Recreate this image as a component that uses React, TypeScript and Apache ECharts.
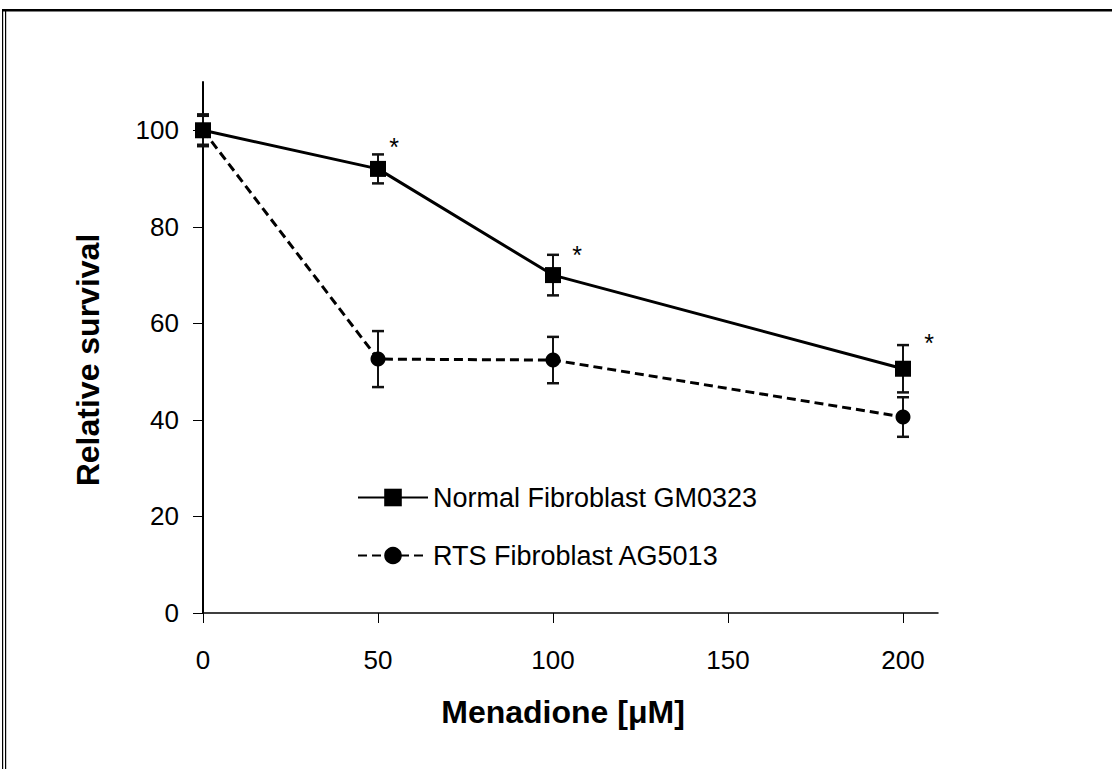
import React, { useEffect, useRef } from "react";
import * as echarts from "echarts";

const doses = [0, 50, 100, 200];
const normalMean = [100, 92, 70, 50.6];
const normalErr = [3.3, 3, 4.2, 4.9];
const rtsMean = [100, 52.6, 52.4, 40.6];
const rtsErr = [3, 5.8, 4.8, 4.1];
const significant = [false, true, true, true];
const xTicks = [0, 50, 100, 150, 200];
const yTicks = [0, 20, 40, 60, 80, 100];
const normalName = "Normal Fibroblast GM0323";
const rtsName = "RTS Fibroblast AG5013";

const FONT = "Liberation Sans, Arial, sans-serif";
const NARROW = "Liberation Sans Narrow, Arial Narrow, Liberation Sans, sans-serif";

function errorSeries(means: number[], errs: number[]) {
  return {
    type: "custom",
    silent: true,
    z: 1,
    data: doses.map((d, i) => [d, means[i] - errs[i], means[i] + errs[i]]),
    renderItem: (params: any, api: any) => {
      const x = api.value(0);
      const lo = api.coord([x, api.value(1)]);
      const hi = api.coord([x, api.value(2)]);
      const cw = 6;
      const style = { stroke: "#111", lineWidth: 2 };
      return {
        type: "group",
        children: [
          { type: "line", shape: { x1: lo[0], y1: lo[1], x2: hi[0], y2: hi[1] }, style },
          { type: "line", shape: { x1: lo[0] - cw, y1: lo[1], x2: lo[0] + cw, y2: lo[1] }, style: { stroke: "#111", lineWidth: 2.5 } },
          { type: "line", shape: { x1: hi[0] - cw, y1: hi[1], x2: hi[0] + cw, y2: hi[1] }, style: { stroke: "#111", lineWidth: 2.5 } },
        ],
      };
    },
  };
}

export default function App() {
  const ref = useRef<HTMLDivElement>(null);
  useEffect(() => {
    const chart = echarts.init(ref.current!, null, { renderer: "svg" });
    const offsets = [[0, 0], [16, -22], [24, -20], [26, -26]];
    chart.setOption({
      animation: false,
      backgroundColor: "#fff",
      grid: { left: 203, top: 82, right: 174, bottom: 156, containLabel: false },
      xAxis: {
        type: "value",
        min: 0,
        max: 210,
        interval: 50,
        name: "Menadione [\u03bcM]",
        nameLocation: "middle",
        nameGap: 83,
        nameTextStyle: { fontFamily: FONT, fontSize: 32, fontWeight: "bold", color: "#000", padding: [0, 15, 0, 0] },
        axisLine: { show: true, onZero: false, lineStyle: { color: "#000", width: 1.5 } },
        axisTick: { show: true, inside: false, length: 10, customValues: xTicks, lineStyle: { color: "#000", width: 1 } },
        axisLabel: { customValues: xTicks, margin: 34, fontFamily: NARROW, fontSize: 26, color: "#000" },
        splitLine: { show: false },
      },
      yAxis: {
        type: "value",
        min: 0,
        max: 110,
        interval: 20,
        name: "Relative survival",
        nameLocation: "middle",
        nameGap: 99,
        nameTextStyle: { fontFamily: FONT, fontSize: 32, fontWeight: "bold", color: "#000", padding: [0, 25, 0, 0] },
        axisLine: { show: true, lineStyle: { color: "#000", width: 2 } },
        axisTick: { show: true, inside: false, length: 10, customValues: yTicks, lineStyle: { color: "#000", width: 1 } },
        axisLabel: { customValues: yTicks, margin: 24, fontFamily: NARROW, fontSize: 26, color: "#000" },
        splitLine: { show: false },
      },
      legend: {
        orient: "vertical",
        left: 352,
        top: 479,
        itemWidth: 70,
        itemHeight: 22,
        itemGap: 31,
        textStyle: { fontFamily: FONT, fontSize: 27, color: "#000" },
        data: [normalName, rtsName],
      },
      series: [
        errorSeries(normalMean, normalErr),
        errorSeries(rtsMean, rtsErr),
        {
          name: rtsName,
          type: "line",
          z: 3,
          symbol: "circle",
          symbolSize: 15,
          itemStyle: { color: "#000" },
          lineStyle: { color: "#000", width: 3, type: [9, 5] },
          data: doses.map((d, i) => [d, rtsMean[i]]),
        },
        {
          name: normalName,
          type: "line",
          z: 4,
          symbol: "rect",
          symbolSize: 16,
          itemStyle: { color: "#000" },
          lineStyle: { color: "#000", width: 3 },
          data: doses.map((d, i) => ({
            value: [d, normalMean[i]],
            label: {
              show: significant[i],
              formatter: "*",
              position: "inside",
              offset: offsets[i],
              fontFamily: FONT,
              fontSize: 25,
              color: "#000",
            },
          })),
        },
      ],
      graphic: [
        { type: "rect", shape: { x: 2, y: 9, width: 1110, height: 2.5 }, style: { fill: "#000" } },
        { type: "rect", shape: { x: 2, y: 9, width: 1.2, height: 760 }, style: { fill: "#000" } },
        { type: "rect", shape: { x: 5, y: 11, width: 1.2, height: 758 }, style: { fill: "#000" } },
      ],
    });
    return () => chart.dispose();
  }, []);
  return (
    <div
      ref={ref}
      style={{ position: "absolute", left: 0, top: 0, width: 1112, height: 769 }}
    />
  );
}
